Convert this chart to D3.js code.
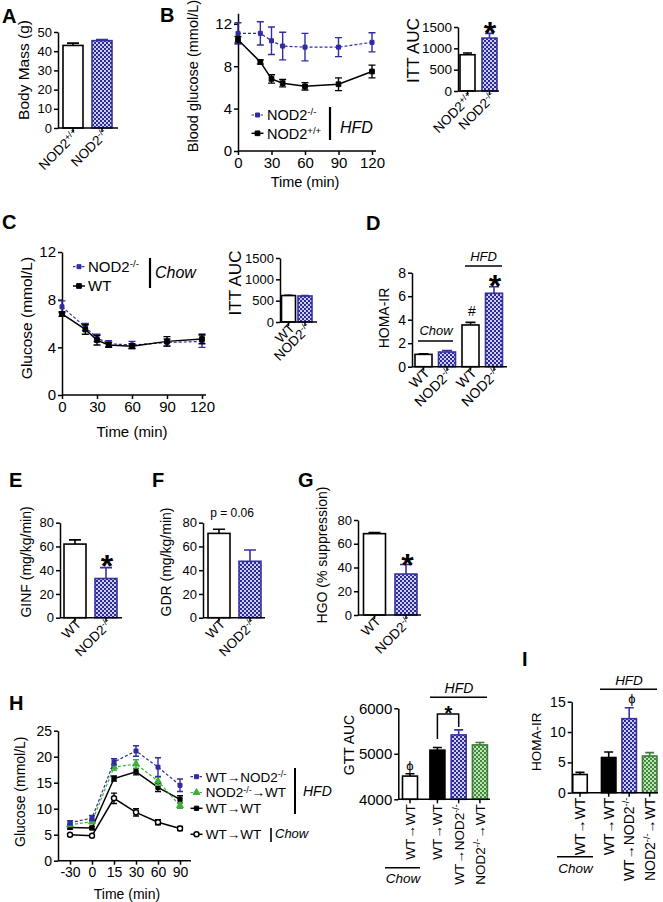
<!DOCTYPE html>
<html><head><meta charset="utf-8">
<script src="https://cdn.jsdelivr.net/npm/d3@7"></script>
<style>body{margin:0;background:#fff}svg{display:block}text{font-family:"Liberation Sans",Arial,sans-serif}</style>
</head><body><script>
// ---------------- DATA ----------------
const bodyMassGroups = ["NOD2{+/+}", "NOD2{-/-}"];
const bodyMassMean = [43, 45.5];
const bodyMassSem = [1.2, 0.6];

const ittTimes = [0, 20, 30, 40, 60, 90, 120];
const hfdKoGlucose = [11.1, 11.1, 10.4, 9.9, 9.8, 9.8, 10.25];
const hfdKoSem = [1.0, 1.1, 1.3, 1.3, 1.3, 0.9, 0.9];
const hfdWtGlucose = [10.5, 8.4, 6.8, 6.4, 6.1, 6.3, 7.5];
const hfdWtSem = [0.3, 0.2, 0.4, 0.35, 0.35, 0.6, 0.6];

const ittAucGroupsB = ["NOD2{+/+}", "NOD2{-/-}"];
const ittAucHfd = [850, 1240];
const ittAucHfdSem = [40, 110];

const chowKoGlucose = [7.4, 5.7, 4.8, 4.3, 4.2, 4.4, 4.5];
const chowKoSem = [0.5, 0.3, 0.3, 0.25, 0.3, 0.3, 0.5];
const chowWtGlucose = [6.8, 5.5, 4.6, 4.2, 4.1, 4.5, 4.7];
const chowWtSem = [0.2, 0.4, 0.4, 0.2, 0.2, 0.4, 0.4];

const ittAucGroupsC = ["WT", "NOD2{-/-}"];
const ittAucChow = [620, 610];
const ittAucChowSem = [8, 8];

const homaGroupsD = ["WT", "NOD2{-/-}", "WT", "NOD2{-/-}"];
const homaDietD = ["Chow", "Chow", "HFD", "HFD"];
const homaD = [1.05, 1.25, 3.55, 6.25];
const homaDSem = [0.05, 0.12, 0.22, 0.55];

const clampGroups = ["WT", "NOD2{-/-}"];
const ginf = [62, 33];
const ginfSem = [3.5, 9.2];
const gdr = [71, 47.5];
const gdrSem = [3.5, 9.5];
const hgo = [68.5, 34.5];
const hgoSem = [1, 8];

const gttTimes = ["-30", "0", "15", "30", "60", "90"];
const gttWtToKo = [7.3, 8.2, 19.0, 21.1, 18.0, 14.5];
const gttWtToKoSem = [0.4, 0.5, 0.6, 1.0, 1.8, 1.2];
const gttKoToWt = [6.9, 7.5, 18.0, 18.6, 15.3, 10.6];
const gttKoToWtSem = [0.3, 0.4, 0.6, 0.8, 0.8, 0.5];
const gttWtToWtHfd = [6.4, 6.3, 15.8, 17.1, 14.1, 11.8];
const gttWtToWtHfdSem = [0.3, 0.3, 0.5, 0.6, 0.8, 0.7];
const gttWtToWtChow = [5.0, 4.8, 12.0, 9.3, 7.4, 6.2];
const gttWtToWtChowSem = [0.2, 0.2, 1.0, 0.7, 0.5, 0.4];

const transplantGroups = ["WT→WT", "WT→WT", "WT→NOD2{-/-}", "NOD2{-/-}→WT"];
const transplantDiet = ["Chow", "HFD", "HFD", "HFD"];
const gttAuc = [4510, 5080, 5415, 5195];
const gttAucSem = [50, 60, 110, 55];
const homaI = [3.0, 5.8, 12.2, 6.05];
const homaISem = [0.35, 0.9, 1.8, 0.55];

// ---------------- SETUP ----------------
const FONT = '"Liberation Sans", Arial, sans-serif';
const svg = d3.select("body").append("svg").attr("width", 663).attr("height", 902);
svg.append("rect").attr("width", 663).attr("height", 902).attr("fill", "#fff");
const defs = svg.append("defs");
function checker(id, dark, light) {
  const p = defs.append("pattern").attr("id", id).attr("patternUnits", "userSpaceOnUse").attr("width", 4).attr("height", 4);
  p.append("rect").attr("width", 4).attr("height", 4).attr("fill", light);
  p.append("rect").attr("width", 2).attr("height", 2).attr("fill", dark);
  p.append("rect").attr("x", 2).attr("y", 2).attr("width", 2).attr("height", 2).attr("fill", dark);
}
checker("blueChk", "#2c2a98", "#cfcff0");
checker("greenChk", "#3b8a36", "#c4e0bd");
const STY = {
  white: { fill: "#fff", stroke: "#000" },
  blue: { fill: "url(#blueChk)", stroke: "#35339e" },
  black: { fill: "#000", stroke: "#000" },
  green: { fill: "url(#greenChk)", stroke: "#3d7d38" }
};
const BLUE = "#2f2da0", GREEN = "#3fae3a";

function rich(sel, str, fs) {
  const parts = str.split(/(\{[^}]*\})/).filter(s => s.length);
  let shifted = false;
  parts.forEach(p => {
    if (p.startsWith("{")) {
      sel.append("tspan").attr("dy", -fs * 0.34).attr("font-size", fs * 0.66).text(p.slice(1, -1));
      shifted = true;
    } else {
      sel.append("tspan").attr("dy", shifted ? fs * 0.34 : 0).attr("font-size", fs).text(p);
      shifted = false;
    }
  });
}
function txt(x, y, s, fs, opt = {}) {
  const t = svg.append("text").attr("x", x).attr("y", y).attr("font-size", fs).attr("fill", "#000")
    .attr("font-family", FONT).attr("text-anchor", opt.anchor || "start");
  if (opt.bold) t.attr("font-weight", "bold");
  if (opt.italic) t.attr("font-style", "italic");
  rich(t, s, fs);
  return t;
}
function vtitle(cx, cy, s, fs) {
  svg.append("text").attr("transform", `translate(${cx + fs * 0.36},${cy}) rotate(-90)`)
    .attr("text-anchor", "middle").attr("font-size", fs).attr("font-family", FONT).text(s);
}
function star(x, cy, fs) {
  svg.append("text").attr("x", x).attr("y", cy + fs * 0.58).attr("text-anchor", "middle")
    .attr("font-size", fs).attr("font-weight", "bold").attr("font-family", FONT).text("*");
}
function hline(x1, x2, y, w = 1.5) {
  svg.append("path").attr("d", `M${x1},${y}H${x2}`).attr("stroke", "#000").attr("stroke-width", w);
}
function vline(x, y1, y2, w = 2) {
  svg.append("path").attr("d", `M${x},${y1}V${y2}`).attr("stroke", "#000").attr("stroke-width", w);
}
function styleAxis(ax, fs) {
  ax.attr("font-size", fs).attr("font-family", FONT);
  ax.selectAll(".domain").attr("stroke", "#000").attr("stroke-width", 1.5);
  ax.selectAll(".tick line").attr("stroke", "#000").attr("stroke-width", 1.5);
  ax.selectAll(".tick text").attr("fill", "#000");
}

function barPanel(o) {
  const g = svg.append("g");
  const y = d3.scaleLinear().domain(o.yDomain).range([o.bottom, o.top]);
  const diet = o.diet || o.vals.map(() => "x");
  const gapBefore = i => { let c = 0; for (let k = 1; k <= i; k++) if (diet[k] !== diet[k - 1]) c++; return c; };
  const gap = o.gap || 0;
  const cx = i => o.x0 + o.step * (i + gap * gapBefore(i));
  const base = y(o.yDomain[0]);
  const idx = d3.range(o.vals.length);
  g.selectAll("rect.bar").data(idx).join("rect").attr("class", "bar")
    .attr("x", i => cx(i) - o.barW / 2).attr("y", i => y(o.vals[i]))
    .attr("width", o.barW).attr("height", i => base - y(o.vals[i]))
    .attr("fill", i => STY[o.styles[i]].fill).attr("stroke", i => STY[o.styles[i]].stroke).attr("stroke-width", 1.6);
  g.selectAll("path.err").data(idx).join("path").attr("class", "err")
    .attr("d", i => {
      const X = cx(i), t = y(o.vals[i] + o.sems[i]), b = y(o.vals[i]), c = o.cap || o.barW * 0.28;
      return `M${X},${b}V${t}M${X - c},${t}H${X + c}`;
    })
    .attr("stroke", i => STY[o.styles[i]].stroke).attr("stroke-width", 1.6).attr("fill", "none");
  const ay = g.append("g").attr("transform", `translate(${o.axisX},0)`)
    .call(d3.axisLeft(y).tickValues(o.yTicks).tickSize(4).tickSizeOuter(0).tickPadding(2).tickFormat(d3.format("d")));
  styleAxis(ay, o.fs);
  g.append("path").attr("d", `M${o.axisX},${base}H${o.axisEnd}`).attr("stroke", "#000").attr("stroke-width", 1.5);
  g.selectAll("path.xt").data(idx).join("path").attr("class", "xt")
    .attr("d", i => `M${cx(i)},${base}v4`).attr("stroke", "#000").attr("stroke-width", 1.5);
  const lfs = o.lfs || 13.5;
  g.selectAll("text.xl").data(idx).join("text").attr("class", "xl")
    .attr("transform", i => o.rot === -90
      ? `translate(${cx(i) + lfs * 0.36},${base + 5}) rotate(-90)`
      : `translate(${cx(i) + 7},${base + 7}) rotate(-45)`)
    .attr("text-anchor", "end").attr("font-family", FONT).attr("font-size", lfs)
    .each(function (i) { rich(d3.select(this), o.cats[i], lfs); });
  return { y, cx };
}

function lineSeries(g, x, y, xs, vals, sems, st) {
  const line = d3.line().x((d, i) => x(xs[i])).y(d => y(d));
  g.append("path").datum(vals).attr("d", line).attr("fill", "none").attr("stroke", st.color)
    .attr("stroke-width", st.w).attr("stroke-dasharray", st.dash || null);
  g.selectAll(null).data(vals).join("path")
    .attr("d", (d, i) => {
      const X = x(xs[i]), t = y(d + sems[i]), b = y(d - sems[i]), c = st.cap;
      return `M${X},${t}V${b}M${X - c},${t}H${X + c}M${X - c},${b}H${X + c}`;
    })
    .attr("stroke", st.color).attr("stroke-width", 1.4).attr("fill", "none");
  g.selectAll(null).data(vals).join("path")
    .attr("transform", (d, i) => `translate(${x(xs[i])},${y(d)})`)
    .attr("d", d3.symbol(st.symbol, st.size)())
    .attr("fill", st.fill).attr("stroke", st.color).attr("stroke-width", st.sw || 1);
}
function legendItem(x, y, st, label, fs, tx) {
  svg.append("path").attr("d", `M${x - 6},${y}H${x + 6}`).attr("stroke", st.color).attr("stroke-width", st.w)
    .attr("stroke-dasharray", st.dash ? "2.5,2" : null);
  svg.append("path").attr("transform", `translate(${x},${y})`).attr("d", d3.symbol(st.symbol, st.size)())
    .attr("fill", st.fill).attr("stroke", st.color).attr("stroke-width", st.sw || 1);
  txt(tx, y + fs * 0.36, label, fs);
}

// ---------------- PANEL LETTERS ----------------
[["A", 2, 22.7], ["B", 160, 21.7], ["C", 2, 229], ["D", 366, 230], ["E", 9, 487], ["F", 152, 487],
 ["G", 298, 487], ["H", 9, 710], ["I", 522, 666]].forEach(([l, x, y]) => txt(x, y, l, 20, { bold: true }));

// ---------------- A ----------------
barPanel({ cats: bodyMassGroups, vals: bodyMassMean, sems: bodyMassSem, styles: ["white", "blue"],
  x0: 73, step: 29, barW: 20, axisX: 58, axisEnd: 118, bottom: 128, top: 32, yDomain: [0, 50],
  yTicks: [0, 10, 20, 30, 40, 50], fs: 13, lfs: 13.5, rot: -45, cap: 6 });
vtitle(23, 70, "Body Mass (g)", 15.5);

// ---------------- B ----------------
{
  const g = svg.append("g");
  const x = d3.scaleLinear().domain([0, 120]).range([238, 372]);
  const y = d3.scaleLinear().domain([0, 13]).range([151, 13.2]);
  const ay = g.append("g").attr("transform", "translate(238,0)")
    .call(d3.axisLeft(y).tickValues([0, 4, 8, 12]).tickSize(4).tickSizeOuter(0).tickPadding(2));
  styleAxis(ay, 15);
  const ax = g.append("g").attr("transform", "translate(0,151)")
    .call(d3.axisBottom(x).tickValues([0, 30, 60, 90, 120]).tickSize(4).tickSizeOuter(0).tickPadding(2));
  styleAxis(ax, 15);
  ax.select(".domain").attr("d", "M238,0H376");
  const ko = { color: BLUE, w: 1.2, dash: "3,2", symbol: d3.symbolSquare, size: 16, fill: BLUE, cap: 3.5 };
  const wt = { color: "#000", w: 1.5, symbol: d3.symbolSquare, size: 22, fill: "#000", cap: 3.5 };
  lineSeries(g, x, y, ittTimes, hfdKoGlucose, hfdKoSem, ko);
  lineSeries(g, x, y, ittTimes, hfdWtGlucose, hfdWtSem, wt);
  legendItem(257.5, 115, ko, "NOD2{-/-}", 14.5, 267);
  legendItem(257.5, 133.3, wt, "NOD2{+/+}", 14.5, 267);
  vline(330, 107, 140, 2.2);
  txt(340, 133, "HFD", 16, { italic: true });
  vtitle(193, 76, "Blood glucose (mmol/L)", 14.5);
  txt(305, 187, "Time (min)", 14.5, { anchor: "middle" });
}

// ---------------- B AUC ----------------
barPanel({ cats: ittAucGroupsB, vals: ittAucHfd, sems: ittAucHfdSem, styles: ["white", "blue"],
  x0: 467.5, step: 22, barW: 15, axisX: 458, axisEnd: 499, bottom: 91, top: 27, yDomain: [0, 1500],
  yTicks: [0, 500, 1000, 1500], fs: 13.5, lfs: 13.5, rot: -45, cap: 4.5 });
vtitle(412.5, 50.5, "ITT AUC", 17);
star(490, 25.5, 32);

// ---------------- C ----------------
{
  const g = svg.append("g");
  const x = d3.scaleLinear().domain([0, 120]).range([62, 202]);
  const y = d3.scaleLinear().domain([0, 12]).range([395, 252]);
  const ay = g.append("g").attr("transform", "translate(62,0)")
    .call(d3.axisLeft(y).tickValues([0, 4, 8, 12]).tickSize(4).tickSizeOuter(0).tickPadding(2));
  styleAxis(ay, 15);
  const ax = g.append("g").attr("transform", "translate(0,395)")
    .call(d3.axisBottom(x).tickValues([0, 30, 60, 90, 120]).tickSize(4).tickSizeOuter(0).tickPadding(2));
  styleAxis(ax, 15);
  ax.select(".domain").attr("d", "M62,0H206");
  const ko = { color: BLUE, w: 1.2, dash: "3,2", symbol: d3.symbolSquare, size: 16, fill: BLUE, cap: 3.5 };
  const wt = { color: "#000", w: 1.5, symbol: d3.symbolSquare, size: 22, fill: "#000", cap: 3.5 };
  lineSeries(g, x, y, ittTimes, chowKoGlucose, chowKoSem, ko);
  lineSeries(g, x, y, ittTimes, chowWtGlucose, chowWtSem, wt);
  legendItem(79, 266.7, ko, "NOD2{-/-}", 15, 88);
  legendItem(79, 286, wt, "WT", 15, 88);
  vline(150, 258, 288, 2.2);
  txt(155, 278, "Chow", 16, { italic: true });
  vtitle(26, 318, "Glucose (mmol/L)", 15.5);
  txt(132, 437, "Time (min)", 15, { anchor: "middle" });
}

// ---------------- C AUC ----------------
barPanel({ cats: ittAucGroupsC, vals: ittAucChow, sems: ittAucChowSem, styles: ["white", "blue"],
  x0: 288.5, step: 16.5, barW: 14, axisX: 280, axisEnd: 317, bottom: 322, top: 258, yDomain: [0, 1500],
  yTicks: [0, 500, 1000, 1500], fs: 13, lfs: 13.5, rot: -45, cap: 4 });
vtitle(234.5, 283, "ITT AUC", 17);

// ---------------- D ----------------
barPanel({ cats: homaGroupsD, vals: homaD, sems: homaDSem, styles: ["white", "blue", "white", "blue"],
  x0: 423.5, step: 23.5, barW: 17, axisX: 412, axisEnd: 507, bottom: 366.7, top: 272.7, yDomain: [0, 8],
  yTicks: [0, 2, 4, 6, 8], fs: 14, lfs: 14, rot: -45, cap: 5 });
vtitle(383.5, 318, "HOMA-IR", 14);
txt(472, 315.7, "#", 14, { anchor: "middle" });
star(495, 278, 32);
txt(436, 335, "Chow", 13, { italic: true, anchor: "middle" });
hline(418, 453, 341);
txt(483.5, 261, "HFD", 13, { italic: true, anchor: "middle" });
hline(465, 502, 266);

// ---------------- E F G ----------------
barPanel({ cats: clampGroups, vals: ginf, sems: ginfSem, styles: ["white", "blue"],
  x0: 75, step: 31, barW: 22, axisX: 60, axisEnd: 122, bottom: 617.7, top: 522.7, yDomain: [0, 80],
  yTicks: [0, 20, 40, 60, 80], fs: 13, lfs: 13.5, rot: -45, cap: 6 });
vtitle(25.5, 562, "GINF (mg/kg/min)", 14);
star(107, 558.7, 32);

barPanel({ cats: clampGroups, vals: gdr, sems: gdrSem, styles: ["white", "blue"],
  x0: 219, step: 31, barW: 22, axisX: 203, axisEnd: 265, bottom: 617.7, top: 522.7, yDomain: [0, 80],
  yTicks: [0, 20, 40, 60, 80], fs: 13, lfs: 13.5, rot: -45, cap: 6 });
vtitle(165.5, 562, "GDR (mg/kg/min)", 14);
txt(232, 517, "p = 0.06", 12, { anchor: "middle" });

barPanel({ cats: clampGroups, vals: hgo, sems: hgoSem, styles: ["white", "blue"],
  x0: 374.5, step: 31.5, barW: 22, axisX: 358, axisEnd: 421, bottom: 615, top: 520, yDomain: [0, 80],
  yTicks: [0, 20, 40, 60, 80], fs: 13, lfs: 13.5, rot: -45, cap: 6 });
vtitle(321.5, 555, "HGO (% suppression)", 14);
star(407.5, 557.5, 32);

// ---------------- H ----------------
{
  const g = svg.append("g");
  const x = d3.scalePoint().domain(gttTimes).range([70, 180]);
  const y = d3.scaleLinear().domain([0, 25]).range([860.7, 730.7]);
  const ay = g.append("g").attr("transform", "translate(58,0)")
    .call(d3.axisLeft(y).tickValues([0, 5, 10, 15, 20, 25]).tickSize(4).tickSizeOuter(0).tickPadding(2));
  styleAxis(ay, 14);
  const ax = g.append("g").attr("transform", "translate(0,860.7)")
    .call(d3.axisBottom(x).tickSize(4).tickSizeOuter(0).tickPadding(2));
  styleAxis(ax, 14);
  ax.select(".domain").attr("d", "M58,0H191");
  const s1 = { color: BLUE, w: 1.2, dash: "3,2", symbol: d3.symbolSquare, size: 16, fill: BLUE, cap: 3 };
  const s2 = { color: GREEN, w: 1.2, dash: "3,2", symbol: d3.symbolTriangle, size: 20, fill: GREEN, cap: 3 };
  const s3 = { color: "#000", w: 1.5, symbol: d3.symbolSquare, size: 18, fill: "#000", cap: 3 };
  const s4 = { color: "#000", w: 1.5, symbol: d3.symbolCircle, size: 20, fill: "#fff", cap: 3, sw: 1.4 };
  lineSeries(g, x, y, gttTimes, gttWtToWtChow, gttWtToWtChowSem, s4);
  lineSeries(g, x, y, gttTimes, gttWtToWtHfd, gttWtToWtHfdSem, s3);
  lineSeries(g, x, y, gttTimes, gttKoToWt, gttKoToWtSem, s2);
  lineSeries(g, x, y, gttTimes, gttWtToKo, gttWtToKoSem, s1);
  legendItem(196.5, 776.7, s1, "WT→NOD2{-/-}", 13.5, 205.7);
  legendItem(196.5, 792.5, s2, "NOD2{-/-}→WT", 13.5, 205.7);
  legendItem(196.5, 808.3, s3, "WT→WT", 13.5, 205.7);
  legendItem(196.5, 834.3, s4, "WT→WT", 13.5, 205.7);
  vline(295, 768, 814, 2);
  txt(303, 796, "HFD", 14, { italic: true });
  vline(271, 828, 842, 1.6);
  txt(275, 838, "Chow", 13, { italic: true });
  vtitle(20, 791.7, "Glucose (mmol/L)", 14);
  txt(127, 899, "Time (min)", 14, { anchor: "middle" });
}

// ---------------- H AUC ----------------
barPanel({ cats: transplantGroups, vals: gttAuc, sems: gttAucSem, styles: ["white", "black", "blue", "green"],
  diet: transplantDiet, gap: 0.29,
  x0: 410, step: 21.25, barW: 15, axisX: 398.3, axisEnd: 490, bottom: 799.3, top: 708.3, yDomain: [4000, 6000],
  yTicks: [4000, 5000, 6000], fs: 15, lfs: 13.5, rot: -90, cap: 4.5 });
vtitle(348.5, 745, "GTT AUC", 14);
txt(410, 770, "ϕ", 13, { anchor: "middle" });
svg.append("path").attr("d", "M437.4,739V714H458.7V727").attr("fill", "none").attr("stroke", "#000").attr("stroke-width", 1.5);
star(448.3, 708.3, 20);
txt(459, 693, "HFD", 14, { italic: true, anchor: "middle" });
hline(430, 487, 697.3);
txt(403, 882.7, "Chow", 13.5, { italic: true, anchor: "middle" });
hline(385, 420, 867.7);

// ---------------- I ----------------
barPanel({ cats: transplantGroups, vals: homaI, sems: homaISem, styles: ["white", "black", "blue", "green"],
  diet: transplantDiet, gap: 0.4,
  x0: 580, step: 20.5, barW: 14.5, axisX: 571.7, axisEnd: 658, bottom: 792.7, top: 701.7, yDomain: [0, 15],
  yTicks: [0, 5, 10, 15], fs: 14, lfs: 14, rot: -90, cap: 4.5 });
vtitle(536, 741.7, "HOMA-IR", 13.5);
txt(632, 703, "ϕ", 13, { anchor: "middle" });
txt(629, 685, "HFD", 13.5, { italic: true, anchor: "middle" });
hline(600, 657, 689.3);
txt(575.5, 873.3, "Chow", 13.5, { italic: true, anchor: "middle" });
hline(557, 593, 856.7);
</script></body></html>
